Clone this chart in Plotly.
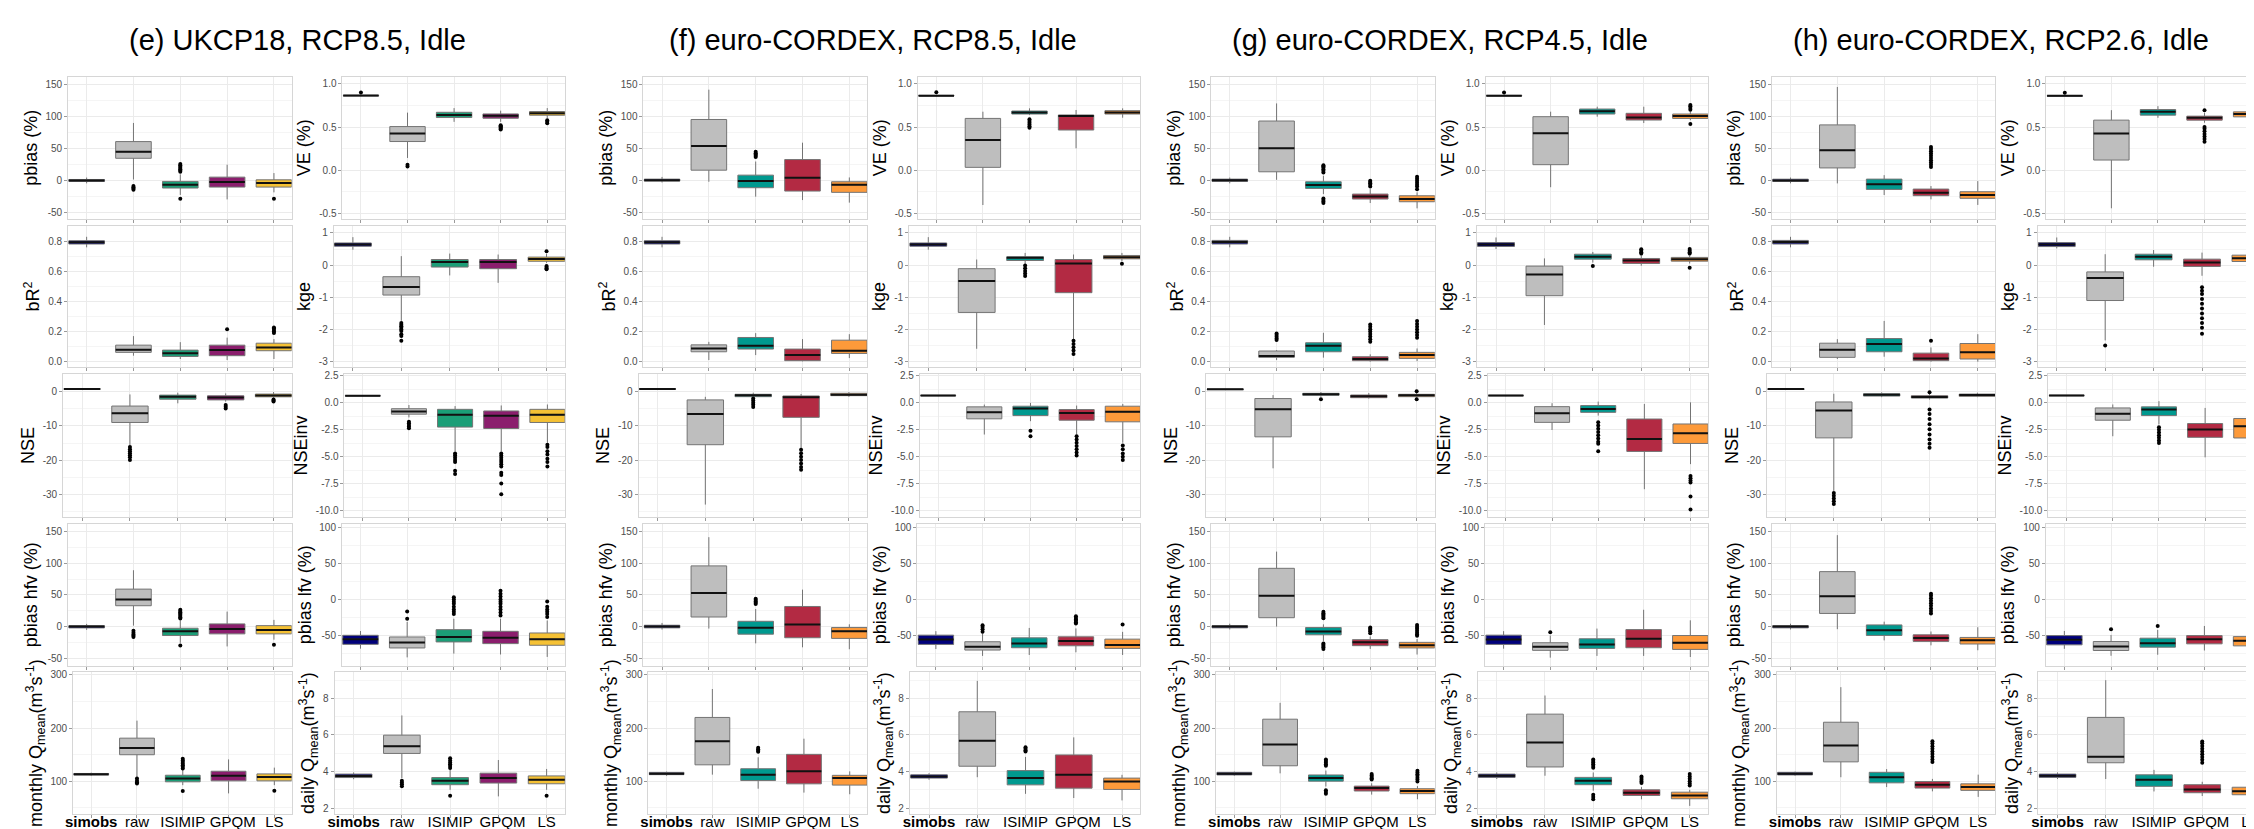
import plotly.graph_objects as go

W, H = 2254, 829
FONT = "Liberation Sans, Arial, Helvetica, sans-serif"

CATEGORIES = ["simobs", "raw", "ISIMIP", "GPQM", "LS"]
CATEGORY_LABELS = ["<b>simobs</b>", "raw", "ISIMIP", "\u00a0\u00a0GPQM", "LS"]
PANEL_TITLES = ["(e) UKCP18, RCP8.5, Idle", "(f) euro-CORDEX, RCP8.5, Idle",
                "(g) euro-CORDEX, RCP4.5, Idle", "(h) euro-CORDEX, RCP2.6, Idle"]
COLORS_UKCP = ["#00007A", "#BEBEBE", "#1B9E77", "#8B1E6D", "#F5C134"]
COLORS_CORDEX = ["#00007A", "#BEBEBE", "#00998F", "#B32A43", "#FD9A3A"]

Y_TITLES = ["pbias (%)", "VE (%)", "bR<sup>2</sup>", "kge", "NSE", "NSEinv",
            "pbias hfv (%)", "pbias lfv (%)",
            "monthly Q<sub>mean</sub>(m<sup>3</sup>s<sup>-1</sup>)",
            "daily Q<sub>mean</sub>(m<sup>3</sup>s<sup>-1</sup>)"]
Y_TICKS = [[-50, 0, 50, 100, 150], [-0.5, 0, 0.5, 1.0], [0, 0.2, 0.4, 0.6, 0.8],
           [-3, -2, -1, 0, 1], [-30, -20, -10, 0], [-10, -7.5, -5, -2.5, 0, 2.5],
           [-50, 0, 50, 100, 150], [-50, 0, 50, 100], [100, 200, 300], [2, 4, 6, 8]]
Y_TICKTEXT = [["-50", "0", "50", "100", "150"], ["-0.5", "0.0", "0.5", "1.0"],
              ["0.0", "0.2", "0.4", "0.6", "0.8"], ["-3", "-2", "-1", "0", "1"],
              ["-30", "-20", "-10", "0"], ["-10.0", "-7.5", "-5.0", "-2.5", "0.0", "2.5"],
              ["-50", "0", "50", "100", "150"], ["-50", "0", "50", "100"],
              ["100", "200", "300"], ["2", "4", "6", "8"]]
Y_RANGES = [[-59, 162], [-0.566, 1.085], [-0.037, 0.904], [-3.175, 1.227], [-36.5, 5.1],
            [-10.56, 2.66], [-61, 162], [-91.7, 105], [38, 305], [1.67, 9.43]]

# ---- box statistics: (lower whisker, q1, median, q3, upper whisker) per category ----
# Panel (e) UKCP18 RCP8.5
E_pbias = [(-4, -1, 0.5, 2, 5), (2, 35, 45, 61, 90), (-22, -11.3, -6.2, -1, 10), (-29, -9.8, -2, 5.7, 25), (-18, -9.8, -3.6, 1.5, 12)]
E_pbias_out = [[], [-8, -10, -12, -14], [14, 16, 18, 20, 22, 24, 26, -28], [], [-28]]
E_ve = [(0.855, 0.86, 0.865, 0.868, 0.875), (0.14, 0.331, 0.424, 0.505, 0.667), (0.56, 0.61, 0.64, 0.671, 0.72), (0.56, 0.602, 0.63, 0.652, 0.69), (0.60, 0.637, 0.66, 0.68, 0.72)]
E_ve_out = [[0.90], [0.04, 0.06], [], [0.47, 0.48, 0.49, 0.50, 0.51, 0.52], [0.545, 0.56, 0.58]]
E_br2 = [(0.76, 0.782, 0.793, 0.804, 0.83), (0.04, 0.062, 0.079, 0.11, 0.17), (0.018, 0.035, 0.057, 0.077, 0.13), (0.011, 0.04, 0.077, 0.11, 0.16), (0.018, 0.073, 0.095, 0.123, 0.15)]
E_br2_out = [[], [], [], [0.216], [0.19, 0.2, 0.21, 0.22, 0.227]]
E_kge = [(0.48, 0.588, 0.64, 0.69, 0.87), (-1.73, -0.93, -0.68, -0.36, 0.28), (-0.32, -0.06, 0.10, 0.175, 0.36), (-0.55, -0.11, 0.10, 0.175, 0.33), (0.07, 0.12, 0.19, 0.25, 0.35)]
E_kge_out = [[], [-1.8, -1.85, -1.9, -1.95, -2.0, -2.05, -2.15, -2.2, -2.35], [], [], [0.43, -0.03, -0.06, -0.1, -0.13]]
E_nse = [(0.7, 0.75, 0.8, 0.82, 0.85), (-15.7, -9.0, -6.3, -4.2, -0.8), (-3.4, -2.2, -1.5, -1.0, -0.3), (-2.9, -2.4, -1.7, -1.2, -0.5), (-1.8, -1.5, -1.1, -0.7, -0.1)]
E_nse_out = [[], [-16.2, -16.8, -17.4, -18, -18.6, -19.2, -20], [], [-3.9, -4.4, -4.9], [-2.3, -2.6, -2.9]]
E_nseinv = [(0.6, 0.63, 0.66, 0.68, 0.7), (-1.35, -1.05, -0.81, -0.54, -0.2), (-4.5, -2.25, -1.11, -0.6, -0.3), (-4.5, -2.38, -1.2, -0.75, -0.24), (-3.7, -1.82, -1.11, -0.6, -0.15)]
E_nseinv_out = [[], [-1.75, -1.9, -2.05, -2.2, -2.35], [-4.7, -4.9, -5.1, -5.3, -5.5, -6.3, -6.6],
                [-4.7, -4.9, -5.1, -5.3, -5.5, -5.7, -5.9, -6.5, -6.7, -7.5, -8.5], [-3.9, -4.1, -4.5, -4.8, -5.2, -5.5, -5.9]]
E_hfv = [(-4.7, -1.6, 0.5, 2, 4.7), (2, 33.2, 43, 59.2, 88.8), (-25, -13.5, -6.8, -2.1, 10), (-30.6, -10.9, -3.1, 4.7, 24), (-20, -10.9, -4.7, 2, 11)]
E_hfv_out = [[], [-6, -9, -12, -14, -16], [13, 15, 17, 19, 21, 23, 25, 27, -29], [], [-28]]
E_lfv = [(-68, -62, -55, -49.5, -43.6), (-80, -67, -59.6, -51.8, -31), (-74.8, -58.7, -51.8, -41.7, -26.6), (-76, -61, -52.8, -44, -26.6), (-79.4, -63.3, -55, -46.3, -29)]
E_lfv_out = [[], [-16.5, -26.6], [3, 0, -3, -6, -10, -14, -17, -20], [12, 8, 4, 0, -3, -6, -10, -14, -18, -22], [-2.8, -10, -14, -17, -20, -24.3]]
E_mq = [(110, 111.5, 113, 114.5, 116), (108, 149.8, 162.3, 181, 214), (92.5, 98.8, 105, 111.2, 123.7), (77, 100.6, 110, 118.7, 141), (92.5, 100.6, 108, 113.7, 125.5)]
E_mq_out = [[], [105, 101, 98, 95.6], [142, 139, 136, 133, 130, 127, 124, 81.3], [], [82]]
E_dq = [(3.58, 3.67, 3.76, 3.86, 3.95), (3.64, 4.99, 5.39, 5.99, 7.07), (3.0, 3.28, 3.49, 3.67, 4.18), (2.64, 3.37, 3.64, 3.91, 4.63), (3.0, 3.33, 3.55, 3.76, 4.14)]
E_dq_out = [[], [3.5, 3.4, 3.3, 3.2], [4.72, 4.6, 4.5, 4.4, 4.3, 4.2, 2.68], [], [2.68]]

# Panel (f) euro-CORDEX RCP8.5
F_pbias = [(-2.6, -0.5, 1, 2.6, 6), (-1.5, 16.5, 54, 95.4, 141.8), (-24.7, -10.8, -0.5, 8.8, 30), (-30, -16, 4.6, 33, 59.3), (-34, -18, -6.2, -1.5, 5.2)]
F_pbias_out = [[], [], [37, 39, 41, 43, 45], [], []]
F_ve = [(0.855, 0.86, 0.864, 0.868, 0.873), (-0.407, 0.031, 0.349, 0.60, 0.678), (0.64, 0.651, 0.67, 0.686, 0.717), (0.252, 0.465, 0.628, 0.64, 0.698), (0.608, 0.651, 0.67, 0.69, 0.717)]
F_ve_out = [[0.903], [], [0.59, 0.57, 0.55, 0.53, 0.51, 0.49], [], []]
F_br2 = [(0.76, 0.782, 0.793, 0.804, 0.83), (0.011, 0.066, 0.088, 0.112, 0.132), (0.044, 0.084, 0.106, 0.161, 0.19), (0.002, 0.007, 0.044, 0.084, 0.15), (0.024, 0.055, 0.073, 0.143, 0.183)]
F_br2_out = [[], [], [], [], []]
F_kge = [(0.48, 0.588, 0.64, 0.69, 0.87), (-2.6, -1.47, -0.49, -0.11, 0.175), (0.04, 0.144, 0.227, 0.26, 0.38), (-2.3, -0.856, 0.05, 0.175, 0.33), (0.12, 0.196, 0.247, 0.3, 0.38)]
F_kge_out = [[], [], [-0.01, -0.1, -0.18, -0.26, -0.34], [-2.35, -2.45, -2.55, -2.65, -2.76], [0.04]]
F_nse = [(0.7, 0.75, 0.8, 0.82, 0.85), (-33, -15.5, -6.5, -2.4, -1.5), (-1.75, -1.46, -1.05, -0.76, -0.3), (-16.5, -7.5, -1.63, -1.25, -0.67), (-1.5, -1.16, -0.87, -0.47, -0.1)]
F_nse_out = [[], [], [-2.0, -2.6, -3.2, -3.8, -4.5], [-17, -18, -19, -20, -21, -22, -22.8], []]
F_nseinv = [(0.62, 0.65, 0.68, 0.7, 0.72), (-2.94, -1.48, -0.87, -0.37, -0.16), (-1.7, -1.18, -0.53, -0.31, 0), (-2.94, -1.61, -0.93, -0.62, -0.25), (-3.7, -1.76, -0.83, -0.31, -0.1)]
F_nseinv_out = [[], [], [-2.6, -3.1], [-3.1, -3.4, -3.7, -4.0, -4.3, -4.6, -4.9], [-3.95, -4.3, -4.7, -5.0, -5.3]]
F_hfv = [(-4.1, -1.5, 0.5, 2.6, 6.2), (-2.6, 15.5, 53.2, 95.6, 140.6), (-25.8, -11.4, -1.5, 8.8, 28), (-32, -17, 3.6, 32, 58.4), (-35, -18, -6.7, -1, 4.1)]
F_hfv_out = [[], [], [36, 38, 40, 42, 44], [], []]
F_lfv = [(-68.5, -62.1, -55.3, -49.3, -43.8), (-78, -69.9, -65.3, -58.4, -47), (-76.7, -66.7, -60.7, -53, -39.3), (-73, -64, -57.5, -51.6, -40), (-76.7, -67.6, -63, -54.8, -44.7)]
F_lfv_out = [[], [-35.6, -38, -41, -44.7], [], [-23.3, -25.5, -27.5, -29.5, -31.5, -33.3], [-34.7]]
F_mq = [(110, 112.3, 114, 116.6, 118), (112.3, 130.8, 175, 220, 273.5), (85.8, 101.2, 112.3, 123.4, 145), (78.5, 95, 118.5, 150.5, 180), (75.4, 92.6, 106.2, 111, 118.5)]
F_mq_out = [[], [], [155.4, 157.5, 160, 162.8], [], []]
F_dq = [(3.55, 3.64, 3.73, 3.82, 3.91), (3.69, 4.29, 5.69, 7.27, 8.96), (2.78, 3.27, 3.64, 4.05, 4.8), (2.55, 3.09, 3.82, 4.91, 5.87), (2.42, 3.02, 3.45, 3.64, 3.82)]
F_dq_out = [[], [], [5.09, 5.17, 5.25, 5.33], [], []]

# Panel (g) euro-CORDEX RCP4.5
G_pbias = [(-4, -1, 1, 2.6, 5), (1.5, 14, 50.6, 93, 120.4), (-20.7, -11.9, -6.7, -1.5, 7.8), (-34.6, -28.4, -24.3, -20.7, -13), (-42.9, -32.6, -28.4, -23.3, -18)]
G_pbias_out = [[], [], [13, 15.5, 18, 20.5, 22.5, 24.3, -27.4, -29.8, -32.2, -34.6], [0, -2, -4, -6, -8.8], [6.2, 3, 0, -3, -6, -9, -13]]
G_ve = [(0.855, 0.86, 0.864, 0.868, 0.873), (-0.2, 0.062, 0.426, 0.62, 0.678), (0.62, 0.651, 0.682, 0.709, 0.736), (0.546, 0.581, 0.612, 0.659, 0.736), (0.58, 0.60, 0.628, 0.651, 0.68)]
G_ve_out = [[0.90], [], [], [], [0.70, 0.72, 0.74, 0.756, 0.535]]
G_br2 = [(0.76, 0.782, 0.795, 0.806, 0.83), (0.011, 0.029, 0.038, 0.071, 0.077), (0.027, 0.066, 0.106, 0.126, 0.192), (0, 0.007, 0.018, 0.033, 0.049), (0.004, 0.022, 0.044, 0.062, 0.088)]
G_br2_out = [[], [0.144, 0.155, 0.166, 0.177, 0.188], [], [0.133, 0.15, 0.167, 0.184, 0.2, 0.216, 0.232, 0.248], [0.16, 0.178, 0.196, 0.214, 0.232, 0.25, 0.27]]
G_kge = [(0.5, 0.58, 0.64, 0.70, 0.86), (-1.86, -0.95, -0.29, -0.03, 0.21), (0.08, 0.186, 0.26, 0.34, 0.41), (-0.02, 0.052, 0.145, 0.207, 0.3), (0.05, 0.124, 0.186, 0.24, 0.3)]
G_kge_out = [[], [], [-0.03], [0.36, 0.4, 0.45, 0.49], [0.36, 0.4, 0.45, 0.5, -0.08]]
G_nse = [(0.5, 0.6, 0.7, 0.75, 0.8), (-22.4, -13.2, -5.1, -2.0, -1.0), (-1.45, -1.05, -0.77, -0.48, -0.1), (-2.0, -1.75, -1.36, -0.97, -0.4), (-1.75, -1.46, -1.05, -0.77, -0.35)]
G_nse_out = [[], [], [-2.2], [], [0.1, -2.2]]
G_nseinv = [(0.62, 0.65, 0.68, 0.7, 0.72), (-2.52, -1.81, -0.97, -0.35, -0.03), (-1.18, -0.88, -0.56, -0.25, 0.12), (-8.02, -4.51, -3.36, -1.5, -0.1), (-5.69, -3.77, -2.83, -1.96, 0.05)]
G_nseinv_out = [[], [], [-1.8, -2.1, -2.4, -2.7, -3.0, -3.3, -3.6, -3.8, -4.5], [], [-6.8, -7.0, -7.2, -7.4, -8.7, -9.9]]
G_hfv = [(-4, -1.5, 0.5, 2, 5), (0.5, 14.4, 49, 91.8, 118), (-22, -12.4, -7.2, -1, 4), (-34.5, -29.4, -24.2, -20, -15), (-43.3, -33, -28.9, -24.2, -19)]
G_hfv_out = [[], [], [13.4, 15.5, 17.5, 19.5, 21.5, 23.7, -26, -28, -30, -32, -34.5], [-1, -3, -5, -7, -9.8], [3, 0, -3, -6, -9, -12, -14]]
G_lfv = [(-68, -62.1, -55.3, -49.3, -43.8), (-80.4, -70.3, -65.3, -59.8, -49.8), (-78, -67.6, -62.1, -54.3, -40.2), (-78, -66.7, -54.3, -41.6, -14.2), (-79.5, -69, -59.8, -49.8, -28.8)]
G_lfv_out = [[], [-45.2], [], [], []]
G_mq = [(110, 111.7, 114.2, 116.7, 118), (114.8, 129, 169, 216.7, 247.5), (90, 100, 106.2, 111.7, 120), (74.7, 81.5, 87, 90.7, 96), (66, 76.5, 81.5, 85.8, 90.7)]
G_mq_out = [[], [], [129, 132, 135, 138, 141, 82.7, 79.5, 76.5], [103, 105.5, 108, 110.5, 113.6], [99.4, 103, 106.5, 110, 113, 116.5, 119.8]]
G_dq = [(3.59, 3.68, 3.77, 3.86, 3.95), (3.77, 4.25, 5.59, 7.14, 8.16), (2.95, 3.28, 3.5, 3.68, 3.95), (2.48, 2.69, 2.84, 3.0, 3.15), (2.12, 2.51, 2.69, 2.87, 3.0)]
G_dq_out = [[], [], [4.21, 4.3, 4.4, 4.5, 4.58, 4.66, 2.73, 2.6, 2.48], [3.37, 3.46, 3.55, 3.64, 3.73], [3.23, 3.35, 3.47, 3.6, 3.73, 3.86]]

# Panel (h) euro-CORDEX RCP2.6
H_pbias = [(-4, -1, 0.5, 2.5, 5), (-4.1, 20, 47.4, 87, 146), (-22.2, -13.4, -5.2, 2.6, 8.8), (-28.9, -23.2, -18.6, -12.9, -8.2), (-37.6, -27.3, -22.2, -17, -0.5)]
H_pbias_out = [[], [], [], [21.6, 25, 28.5, 32, 35.5, 39, 42.5, 46, 49.5, 52.6], []]
H_ve = [(0.855, 0.858, 0.862, 0.866, 0.87), (-0.445, 0.116, 0.425, 0.58, 0.696), (0.607, 0.638, 0.676, 0.703, 0.742), (0.55, 0.58, 0.607, 0.626, 0.665), (0.56, 0.618, 0.65, 0.676, 0.715)]
H_ve_out = [[0.897], [], [], [0.696, 0.33, 0.36, 0.39, 0.42, 0.45, 0.48, 0.5], []]
H_br2 = [(0.76, 0.782, 0.795, 0.806, 0.83), (0.018, 0.029, 0.079, 0.123, 0.15), (0.033, 0.066, 0.117, 0.154, 0.271), (0, 0.007, 0.022, 0.057, 0.095), (0, 0.018, 0.062, 0.121, 0.183)]
H_br2_out = [[], [], [], [0.139], []]
H_kge = [(0.52, 0.577, 0.64, 0.70, 0.86), (-2.34, -1.1, -0.4, -0.21, 0.34), (-0.05, 0.165, 0.258, 0.34, 0.47), (-0.33, -0.04, 0.08, 0.186, 0.39), (-0.04, 0.113, 0.216, 0.31, 0.44)]
H_kge_out = [[], [-2.5], [], [-0.69, -0.8, -0.9, -1.05, -1.2, -1.35, -1.5, -1.65, -1.8, -1.95, -2.13], []]
H_nse = [(0.6, 0.7, 0.77, 0.82, 0.85), (-29, -13.5, -5.5, -3.0, -0.6), (-1.6, -1.28, -0.9, -0.6, -0.2), (-2.3, -1.87, -1.56, -1.17, -0.7), (-1.6, -1.36, -1.0, -0.7, -0.3)]
H_nse_out = [[], [-29.6, -30.4, -31.2, -32, -32.8], [], [-0.2, -5.2, -6.5, -8, -9.5, -11, -12.5, -14, -15.2, -16.4], []]
H_nseinv = [(0.63, 0.66, 0.69, 0.71, 0.73), (-3.1, -1.61, -1.02, -0.47, -0.15), (-2.0, -1.18, -0.62, -0.37, 0.16), (-5.06, -3.2, -2.48, -1.92, -0.47), (-4.66, -3.26, -2.17, -1.45, -0.4)]
H_nseinv_out = [[], [], [-2.26, -2.5, -2.75, -3.0, -3.25, -3.5, -3.73], [], [-5.9]]
H_hfv = [(-4, -1.5, 0.5, 2, 5), (-3.6, 21.1, 48, 86.6, 143.8), (-21.1, -13.4, -5.2, 3.1, 8.2), (-28.9, -22.7, -17.5, -12.4, -7.2), (-36.6, -26.8, -21.1, -16.5, -0.5)]
H_hfv_out = [[], [], [], [21, 25, 29, 33, 37, 41, 45, 49, 52], []]
H_lfv = [(-68.2, -62.7, -55.8, -49.9, -43.5), (-77.8, -70.5, -65, -58.1, -49), (-76.4, -65.9, -60.4, -53.5, -42.1), (-70.5, -61.3, -54.9, -49.9, -36.6), (-71.9, -64.1, -57.2, -51.3, -40)]
H_lfv_out = [[], [-41.2], [-36.6], [], [-34.3]]
H_mq = [(110, 111.7, 114.2, 116.7, 118), (107.4, 136.4, 167.3, 211, 277), (88.9, 96.9, 107.4, 116.7, 122.8), (80.9, 87, 93.2, 99.4, 104.3), (70.4, 82.7, 88.9, 95, 112.3)]
H_mq_out = [[], [], [], [136, 141, 146, 151, 156, 161, 166, 171, 175], []]
H_dq = [(3.59, 3.68, 3.77, 3.86, 3.95), (3.59, 4.48, 4.81, 6.96, 9.0), (2.91, 3.19, 3.55, 3.82, 4.09), (2.66, 2.84, 3.01, 3.28, 3.44), (2.33, 2.73, 2.92, 3.14, 3.71)]
H_dq_out = [[], [], [], [4.48, 4.65, 4.8, 4.95, 5.1, 5.25, 5.4, 5.55, 5.65], []]

PANELS = [
    ([E_pbias, E_ve, E_br2, E_kge, E_nse, E_nseinv, E_hfv, E_lfv, E_mq, E_dq],
     [E_pbias_out, E_ve_out, E_br2_out, E_kge_out, E_nse_out, E_nseinv_out, E_hfv_out, E_lfv_out, E_mq_out, E_dq_out],
     COLORS_UKCP),
    ([F_pbias, F_ve, F_br2, F_kge, F_nse, F_nseinv, F_hfv, F_lfv, F_mq, F_dq],
     [F_pbias_out, F_ve_out, F_br2_out, F_kge_out, F_nse_out, F_nseinv_out, F_hfv_out, F_lfv_out, F_mq_out, F_dq_out],
     COLORS_CORDEX),
    ([G_pbias, G_ve, G_br2, G_kge, G_nse, G_nseinv, G_hfv, G_lfv, G_mq, G_dq],
     [G_pbias_out, G_ve_out, G_br2_out, G_kge_out, G_nse_out, G_nseinv_out, G_hfv_out, G_lfv_out, G_mq_out, G_dq_out],
     COLORS_CORDEX),
    ([H_pbias, H_ve, H_br2, H_kge, H_nse, H_nseinv, H_hfv, H_lfv, H_mq, H_dq],
     [H_pbias_out, H_ve_out, H_br2_out, H_kge_out, H_nse_out, H_nseinv_out, H_hfv_out, H_lfv_out, H_mq_out, H_dq_out],
     COLORS_CORDEX),
]

# ---- layout geometry (pixels) ----
PANEL_L0 = [52.3, 630, 1200, 1763]
ROW_TOP = [65, 214.7, 364, 514, 663.5]
ROW_BOT = [207.7, 357, 507, 657, 806]
LEFT_OFF = [0, 0, -5, 0, 5]
RIGHT_OFF = [275.5, 266.7, 277.5, 275, 267.5]
LEFT_END = 224.4
RIGHT_END = 498.7
X_RANGE = (-0.396, 4.377)
BOX_W = 0.76

GRID = "#EBEBEB"
MINOR = "#F5F5F5"
BORDER = "#D6D6D6"
BOX_LINE = "#747474"

fig = go.Figure()
layout = dict(
    width=W, height=H, margin=dict(l=0, r=0, t=0, b=0),
    paper_bgcolor="white", plot_bgcolor="white", showlegend=False,
    font=dict(family=FONT, color="black"),
    annotations=[],
)

for p, (stats_list, outs_list, colors) in enumerate(PANELS):
    L0 = PANEL_L0[p]
    layout["annotations"].append(dict(
        text=PANEL_TITLES[p], xref="paper", yref="paper",
        x=(L0 + 230) / W, y=1 - 28 / H, xanchor="center", yanchor="middle",
        showarrow=False, font=dict(size=29, family=FONT, color="black")))
    for m in range(10):
        row, col = m // 2, m % 2
        n = p * 10 + m + 1
        xs = "" if n == 1 else str(n)
        if col == 0:
            x0, x1 = L0 + LEFT_OFF[row], L0 + LEFT_END
        else:
            x0, x1 = L0 + RIGHT_OFF[row], L0 + RIGHT_END
        xr = list(X_RANGE)
        if x1 > W:
            xr[1] = X_RANGE[0] + (X_RANGE[1] - X_RANGE[0]) * (W - x0) / (x1 - x0)
            x1 = W
        y0, y1 = ROW_TOP[row], ROW_BOT[row]
        stats = stats_list[m]
        outs = outs_list[m]
        for c in range(5):
            lo, q1, med, q3, hi = stats[c]
            fig.add_trace(go.Box(
                x=[c], q1=[q1], median=[med], q3=[q3], lowerfence=[lo], upperfence=[hi],
                width=BOX_W, whiskerwidth=0, boxpoints=False,
                fillcolor=colors[c], line=dict(color=BOX_LINE, width=1),
                xaxis="x" + xs, yaxis="y" + xs, hoverinfo="skip", showlegend=False))
        mx, my = [], []
        for c in range(5):
            mx += [c - BOX_W / 2, c + BOX_W / 2, None]
            my += [stats[c][2], stats[c][2], None]
        fig.add_trace(go.Scatter(x=mx, y=my, mode="lines", line=dict(color="#111111", width=2),
                                 xaxis="x" + xs, yaxis="y" + xs, hoverinfo="skip", showlegend=False))
        ox, oy = [], []
        for c in range(5):
            ox += [c] * len(outs[c])
            oy += list(outs[c])
        if ox:
            fig.add_trace(go.Scatter(x=ox, y=oy, mode="markers",
                                     marker=dict(color="black", size=4),
                                     xaxis="x" + xs, yaxis="y" + xs, hoverinfo="skip", showlegend=False))
        ticks = Y_TICKS[m]
        step = ticks[1] - ticks[0]
        minor_vals = [t + step / 2 for t in ticks] + [ticks[0] - step / 2]
        xaxis = dict(
            domain=[x0 / W, x1 / W], anchor="y" + xs, range=xr,
            tickmode="array", tickvals=list(range(5)),
            showticklabels=(row == 4), tickangle=0,
            tickfont=dict(size=15, color="black", family=FONT),
            ticks="outside", ticklen=3, tickcolor="#9A9A9A", tickwidth=1,
            showgrid=True, gridcolor=GRID, gridwidth=1, zeroline=False,
            showline=True, linecolor=BORDER, linewidth=1, mirror=True, fixedrange=True)
        if row == 4:
            xaxis["ticktext"] = CATEGORY_LABELS
            xaxis["ticklabelstandoff"] = -9
        layout["xaxis" + xs] = xaxis
        layout["yaxis" + xs] = dict(
            domain=[1 - y1 / H, 1 - y0 / H], anchor="x" + xs, range=Y_RANGES[m],
            tickmode="array", tickvals=ticks, ticktext=Y_TICKTEXT[m],
            tickfont=dict(size=10, color="#4D4D4D", family=FONT),
            ticks="outside", ticklen=3, tickcolor="#9A9A9A", tickwidth=1,
            showgrid=True, gridcolor=GRID, gridwidth=1, zeroline=False,
            minor=dict(tickvals=minor_vals, showgrid=True, gridcolor=MINOR, gridwidth=0.6),
            showline=True, linecolor=BORDER, linewidth=1, mirror=True, fixedrange=True,
            title=dict(text=Y_TITLES[m], font=dict(size=18, color="black", family=FONT), standoff=3))

fig.update_layout(**layout)
fig.write_html("out.html")
